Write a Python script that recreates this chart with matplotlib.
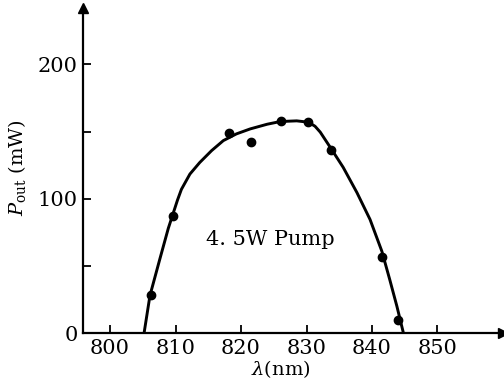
import matplotlib
matplotlib.use("Agg")
import matplotlib.pyplot as plt

plt.rcParams['font.family'] = ['DejaVu Serif']
plt.rcParams['mathtext.fontset'] = 'dejavuserif'

# measured points (wavelength nm, output power mW)
wl_pts = [806.3, 809.6, 818.1, 821.5, 826.1, 830.3, 833.7, 841.6, 843.9]
p_pts = [28, 87, 149, 142, 158, 157, 136, 57, 10]

# hand drawn curve
wl_curve = [805.2, 806.1, 807.6, 808.9, 809.7, 810.3, 810.9, 812.2, 813.7, 815.5,
            817.3, 819.3, 821.4, 824.0, 826.0, 828.5, 830.3, 831.3, 832.1, 833.8,
            835.6, 837.7, 839.7, 841.5, 842.7, 843.8, 844.8]
p_curve = [0, 28, 55, 78, 90, 99, 107, 118.4, 127, 135.8,
           143.3, 148.3, 152, 155.5, 157.5, 158, 157, 154, 149.6, 137,
           123.4, 104.6, 84.6, 61, 40, 20, 0]

xticks = [800, 810, 820, 830, 840, 850]
yticks = [0, 50, 100, 150, 200]
yticklabels = ['0', '', '100', '', '200']

fig = plt.figure(figsize=(5.04, 3.82), dpi=100)
ax = fig.add_axes([0.165, 0.128, 0.833, 0.851])

ax.plot(wl_curve, p_curve, color='black', lw=2.1, solid_joinstyle='round')
ax.plot(wl_pts, p_pts, 'o', color='black', ms=6)

ax.set_xlim(795.9, 860)
ax.set_ylim(0, 242)

ax.spines['top'].set_visible(False)
ax.spines['right'].set_visible(False)
for s in ['left', 'bottom']:
    ax.spines[s].set_linewidth(1.6)

# arrow heads on the axes
ax.plot(1, 0, '>', color='black', ms=7, transform=ax.transAxes, clip_on=False)
ax.plot(0, 1, '^', color='black', ms=7, transform=ax.transAxes, clip_on=False)

ax.set_xticks(xticks)
ax.set_yticks(yticks)
ax.set_yticklabels(yticklabels)
ax.tick_params(direction='in', length=6, width=1.3, labelsize=15, pad=4)

ax.text(824.4, 70, '4. 5W Pump', fontsize=15, ha='center', va='center')

ax.set_xlabel(r'$\lambda$(nm)', fontsize=14)
ax.set_ylabel(r'$P_{\rm out}$ (mW)', fontsize=14)
ax.xaxis.set_label_coords(0.471, -0.077)
ax.yaxis.set_label_coords(-0.131, 0.51)

fig.savefig('out.png', dpi=100)
